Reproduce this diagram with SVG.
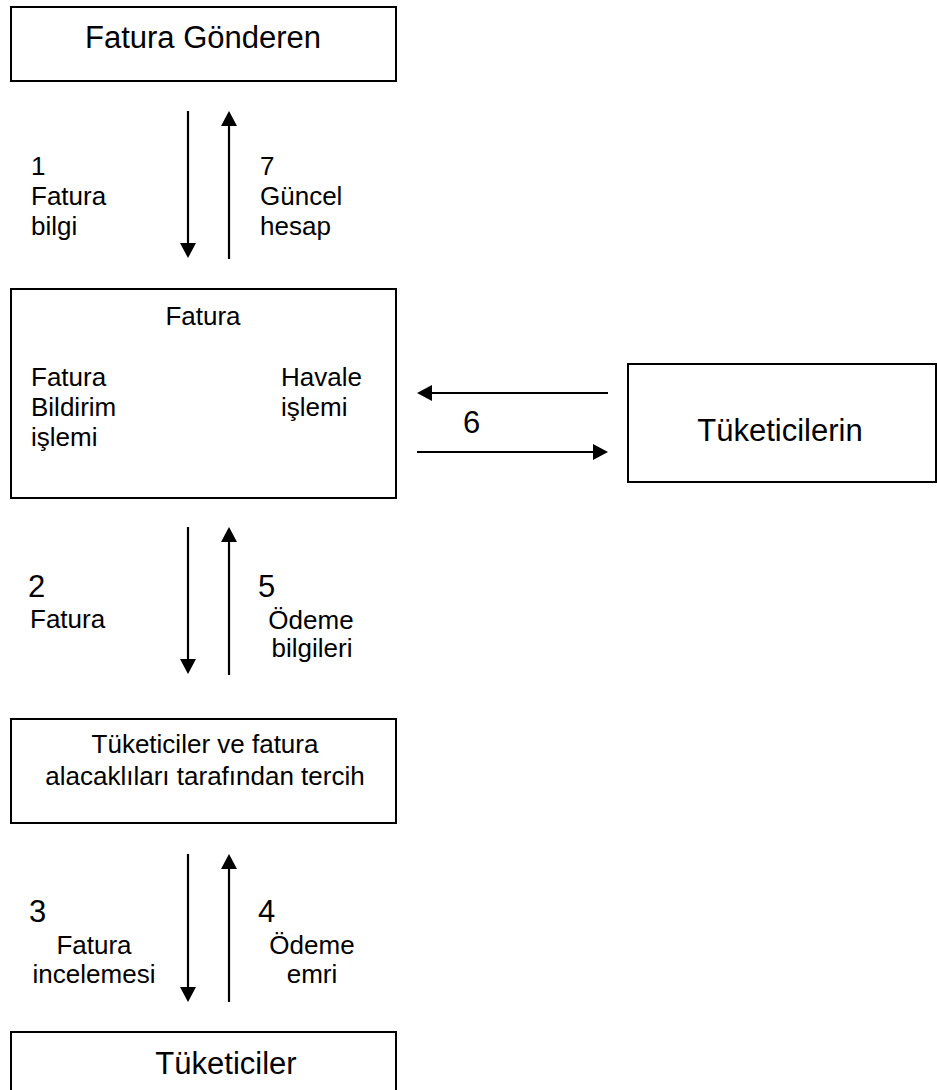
<svg xmlns="http://www.w3.org/2000/svg" width="937" height="1090" viewBox="0 0 937 1090">
<style>
.box{fill:#fff;stroke:#000;stroke-width:2}
.big{font-family:"Liberation Sans",Arial,sans-serif;font-size:31px;fill:#000}
.sm{font-family:"Liberation Sans",Arial,sans-serif;font-size:26px;fill:#000}
.mid{text-anchor:middle}
.arr{stroke:#000;stroke-width:2.2;fill:none;marker-end:url(#ah)}
</style>
<defs>
<marker id="ah" viewBox="0 0 15 16" refX="7" refY="8" markerWidth="15" markerHeight="16" markerUnits="userSpaceOnUse" orient="auto">
<path d="M0,0 L15,8 L0,16 Z" fill="#000"/>
</marker>
</defs>
<rect width="937" height="1090" fill="#fff"/>
<g id="fatura-gonderen">
<rect class="box" x="11" y="7" width="385" height="74"/>
<text class="big mid" x="203" y="48">Fatura Gönderen</text>
</g>
<g id="fatura">
<rect class="box" x="11" y="289" width="385" height="209"/>
<text class="sm mid" x="203" y="325">Fatura</text>
<text class="sm" x="31" y="386">Fatura</text>
<text class="sm" x="31" y="416">Bildirim</text>
<text class="sm" x="31" y="446">işlemi</text>
<text class="sm" x="281" y="386">Havale</text>
<text class="sm" x="281" y="416">işlemi</text>
</g>
<g id="tuketicilerin">
<rect class="box" x="628" y="364" width="308" height="118"/>
<text class="big mid" x="780" y="441">Tüketicilerin</text>
</g>
<g id="tercih">
<rect class="box" x="11" y="719" width="385" height="104"/>
<text class="sm mid" x="205" y="753">Tüketiciler ve fatura</text>
<text class="sm mid" x="205" y="785">alacaklıları tarafından tercih</text>
</g>
<g id="tuketiciler">
<rect class="box" x="11" y="1032" width="385" height="80"/>
<text class="big mid" x="226" y="1074">Tüketiciler</text>
</g>
<g id="connectors">
<line class="arr" x1="188" y1="111" x2="188" y2="250"/>
<line class="arr" x1="229" y1="259" x2="229" y2="119"/>
<line class="arr" x1="608" y1="393" x2="425" y2="393"/>
<line class="arr" x1="417" y1="452" x2="600" y2="452"/>
<line class="arr" x1="188" y1="527" x2="188" y2="666"/>
<line class="arr" x1="229" y1="675" x2="229" y2="535"/>
<line class="arr" x1="188" y1="854" x2="188" y2="994"/>
<line class="arr" x1="229" y1="1002" x2="229" y2="862"/>
</g>
<g id="labels">
<text class="sm" x="31" y="175">1</text>
<text class="sm" x="31" y="205">Fatura</text>
<text class="sm" x="31" y="235">bilgi</text>
<text class="sm" x="260" y="175">7</text>
<text class="sm" x="260" y="205">Güncel</text>
<text class="sm" x="260" y="235">hesap</text>
<text class="big" x="463" y="433">6</text>
<text class="big" x="28" y="597">2</text>
<text class="sm" x="30" y="628">Fatura</text>
<text class="big" x="258" y="597">5</text>
<text class="sm mid" x="311" y="629">Ödeme</text>
<text class="sm mid" x="312" y="657">bilgileri</text>
<text class="big" x="29" y="922">3</text>
<text class="big" x="258" y="922">4</text>
<text class="sm mid" x="94" y="954">Fatura</text>
<text class="sm mid" x="94" y="983">incelemesi</text>
<text class="sm mid" x="312" y="954">Ödeme</text>
<text class="sm mid" x="312" y="983">emri</text>
</g>
</svg>
